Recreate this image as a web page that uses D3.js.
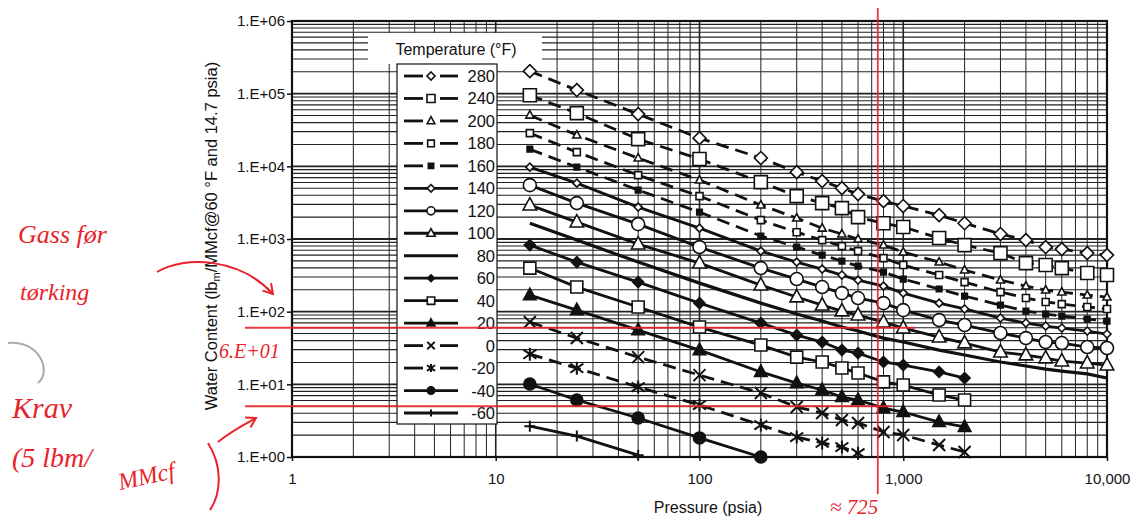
<!DOCTYPE html>
<html>
<head>
<meta charset="utf-8">
<script src="https://cdn.jsdelivr.net/npm/d3@7"></script>
<style>
body { margin: 0; background: #fff; }
svg text { font-family: "Liberation Sans", Arial, sans-serif; fill: #111; }
.hand { font-family: "Liberation Serif", serif; font-style: italic; fill: #e8232b; }
</style>
</head>
<body>
<svg id="chart" width="1139" height="522"></svg>
<script>
// pressures (psia) the table is given at
var pressures = [14.7, 25, 50, 100, 200, 300, 400, 500, 600, 800, 1000, 1500, 2000, 3000, 4000, 5000, 6000, 8000, 10000];
var temps = [280, 240, 200, 180, 160, 140, 120, 100, 80, 60, 40, 20, 0, -20, -40, -60];

// water content, lbm/MMcf, one array per temperature
var wc280 = [204000, 112000, 52300, 24400, 13000, 8320, 6260, 5010, 4150, 3320, 2840, 2130, 1650, 1170, 966, 774, 726, 640, 600];
var wc240 = [95300, 53900, 23700, 12600, 6060, 3890, 3120, 2660, 2000, 1650, 1460, 1030, 824, 640, 466, 438, 398, 340, 319];
var wc200 = [50600, 26900, 13000, 6460, 2930, 1940, 1410, 1170, 997, 824, 660, 481, 374, 272, 225, 198, 186, 169, 159];
var wc180 = [28600, 15700, 7570, 3890, 1820, 1240, 966, 798, 682, 546, 438, 319, 255, 186, 154, 136, 127, 116, 109];
var wc160 = [17200, 9750, 4710, 2340, 1100, 774, 600, 497, 424, 351, 281, 205, 164, 123, 102, 92.7, 87, 79.1, 74.3];
var wc140 = [9750, 5870, 2750, 1410, 682, 481, 385, 319, 272, 225, 180, 131, 109, 81.7, 69.7, 63.4, 59.5, 54.1, 49.2];
var wc120 = [5510, 3120, 1600, 774, 398, 281, 218, 180, 154, 131, 105, 76.6, 65.4, 50.8, 43.3, 38.2, 37, 32.6, 31.6];
var wc100 = [2930, 1710, 851, 466, 232, 159, 123, 102, 89.8, 71.9, 59.5, 44.7, 37, 27.8, 25.3, 23, 20.9, 19.6, 18.4];
var wc80 = [1650, 966, 481, 247, 131, 92.7, 74.3, 61.4, 54.1, 43.3, 38.2, 29.6, 25.3, 20.3, 17.9, 16.2, 15.2, 13.9, 12.2];
var wc60 = [824, 481, 255, 131, 69.7, 47.6, 38.2, 29.6, 26.9, 20.3, 18.4, 14.8, 12.2];
var wc40 = [398, 218, 116, 61.4, 34.7, 23.7, 20.3, 16.8, 14.3, 10.8, 9.78, 7.13, 6.08];
var wc20 = [169, 105, 55.8, 29.6, 14.8, 10.4, 8.35, 6.69, 6.08, 4.72, 4.16, 3.03, 2.59];
var wc0 = [71.9, 43.3, 23.7, 13.4, 7.59, 4.87, 4.03, 3.23, 2.94, 2.21, 2.01, 1.46, 1.17];
var wcM20 = [26, 16.7, 9.18, 5.19, 2.75, 1.88, 1.56, 1.37, 1.13];
var wcM40 = [10.1, 6.08, 3.44, 1.83, 1.0];
var wcM60 = [2.65, 1.94, 1.06];

var seriesValues = [wc280, wc240, wc200, wc180, wc160, wc140, wc120, wc100, wc80, wc60, wc40, wc20, wc0, wcM20, wcM40, wcM60];

var yTicks = [1, 10, 100, 1e3, 1e4, 1e5, 1e6];
var xTicks = [1, 10, 100, 1000, 10000];

// hand-written notes on the scan
var noteLevels = [60, 5];      // lbm/MMcf
var notePressure = 750;        // psia, where the red vertical was drawn

// marker / line look for each temperature
var styles = {
    '280': { m: 'diamond', r: 6.5, fill: false, dash: true },
    '240': { m: 'square', r: 6.5, fill: false, dash: true },
    '200': { m: 'triangle', r: 4.5, fill: false, dash: true },
    '180': { m: 'square', r: 3.5, fill: false, dash: true },
    '160': { m: 'square', r: 2.8, fill: true, dash: true },
    '140': { m: 'diamond', r: 4, fill: false, dash: false },
    '120': { m: 'circle', r: 6.5, fill: false, dash: false },
    '100': { m: 'triangle', r: 7.5, fill: false, dash: false },
    '80': { m: 'none', r: 0, fill: false, dash: false },
    '60': { m: 'diamond', r: 5.5, fill: true, dash: false },
    '40': { m: 'square', r: 6, fill: false, dash: false },
    '20': { m: 'triangle', r: 7, fill: true, dash: false },
    '0': { m: 'x', r: 6, fill: false, dash: true },
    '-20': { m: 'asterisk', r: 6.5, fill: false, dash: true },
    '-40': { m: 'circle', r: 6, fill: true, dash: false },
    '-60': { m: 'plus', r: 5.5, fill: false, dash: false }
};

(function() {
var svg = d3.select('#chart');
var pl = 292, pr = 1107, pt = 21, pb = 457;

var x = d3.scaleLog().domain([1, 10000]).range([pl, pr]);
var y = d3.scaleLog().domain([1, 1e6]).range([pb, pt]);

var markerPath = function(m, r) {
    if (m === 'diamond') return 'M0,' + (-r) + 'L' + r + ',0L0,' + r + 'L' + (-r) + ',0Z';
    if (m === 'square') return 'M' + (-r) + ',' + (-r) + 'h' + 2 * r + 'v' + 2 * r + 'h' + (-2 * r) + 'Z';
    if (m === 'triangle') return 'M0,' + (-r) + 'L' + (r * 0.9) + ',' + (r * 0.65) + 'L' + (-r * 0.9) + ',' + (r * 0.65) + 'Z';
    if (m === 'x') return 'M' + (-r) + ',' + (-r) + 'L' + r + ',' + r + 'M' + (-r) + ',' + r + 'L' + r + ',' + (-r);
    if (m === 'asterisk') return 'M' + (-r) + ',' + (-r * 0.7) + 'L' + r + ',' + (r * 0.7) + 'M' + (-r) + ',' + (r * 0.7) + 'L' + r + ',' + (-r * 0.7) + 'M0,' + (-r) + 'V' + r;
    if (m === 'plus') return 'M' + (-r) + ',0H' + r + 'M0,' + (-r) + 'V' + r;
    return '';
};

var drawMarker = function(g, st, cx, cy, scale) {
    var r = st.r * (scale || 1);
    if (st.m === 'none') return;
    if (st.m === 'circle') {
        g.append('circle').attr('cx', cx).attr('cy', cy).attr('r', r)
            .attr('fill', st.fill ? '#111' : '#fff').attr('stroke', '#111').attr('stroke-width', 1.6);
        return;
    }
    var open = (st.m === 'x' || st.m === 'asterisk' || st.m === 'plus');
    g.append('path').attr('d', markerPath(st.m, r))
        .attr('transform', 'translate(' + cx + ',' + cy + ')')
        .attr('fill', open ? 'none' : (st.fill ? '#111' : '#fff'))
        .attr('stroke', '#111')
        .attr('stroke-width', open ? 2 : 1.6);
};

svg.append('rect').attr('width', 1139).attr('height', 522).attr('fill', '#fff');

svg.append('clipPath').attr('id', 'plotclip')
    .append('rect').attr('x', pl).attr('y', pt).attr('width', pr - pl).attr('height', pb - pt);

// grid: decades plus 2..9
var grid = svg.append('g');
var xGrid = [], yGrid = [];
xTicks.forEach(function(d) {
    for (var k = 1; k < 10; k++) { if (d * k <= 10000) xGrid.push({ v: d * k, major: k === 1 }); }
});
yTicks.forEach(function(d) {
    for (var k = 1; k < 10; k++) { if (d * k <= 1e6) yGrid.push({ v: d * k, major: k === 1 }); }
});
grid.selectAll('.vg').data(xGrid).enter().append('line')
    .attr('x1', function(d) { return x(d.v); }).attr('x2', function(d) { return x(d.v); })
    .attr('y1', pt).attr('y2', pb)
    .attr('stroke', '#222').attr('stroke-width', function(d) { return d.major ? 1.6 : 1; });
grid.selectAll('.hg').data(yGrid).enter().append('line')
    .attr('x1', pl).attr('x2', pr)
    .attr('y1', function(d) { return y(d.v); }).attr('y2', function(d) { return y(d.v); })
    .attr('stroke', '#222').attr('stroke-width', function(d) { return d.major ? 1.8 : 1.1; });

// frame
svg.append('rect').attr('x', pl).attr('y', pt).attr('width', pr - pl).attr('height', pb - pt)
    .attr('fill', 'none').attr('stroke', '#111').attr('stroke-width', 2.2);

// axes
var yAxis = d3.axisLeft(y).tickValues(yTicks).tickSize(5).tickPadding(2)
    .tickFormat(function(d) { return '1.E+' + d3.format('02d')(Math.round(Math.log10(d))); });
var ya = svg.append('g').attr('transform', 'translate(' + pl + ',0)').call(yAxis);
ya.select('.domain').remove();
ya.selectAll('text').style('font-size', '15px').attr('fill', '#111');
ya.selectAll('line').attr('stroke', '#111').attr('stroke-width', 1.5);

var xAxis = d3.axisBottom(x).tickValues(xTicks).tickSize(4).tickPadding(12)
    .tickFormat(d3.format(','));
var xa = svg.append('g').attr('transform', 'translate(0,' + pb + ')').call(xAxis);
xa.select('.domain').remove();
xa.selectAll('text').style('font-size', '15px').attr('fill', '#111');
xa.selectAll('line').attr('stroke', '#111').attr('stroke-width', 1.5);

svg.append('text').attr('x', 708).attr('y', 513).attr('text-anchor', 'middle')
    .style('font-size', '16px').text('Pressure (psia)');

var yt = svg.append('text').attr('transform', 'translate(217,236) rotate(-90)')
    .attr('text-anchor', 'middle').style('font-size', '16.5px');
yt.append('tspan').text('Water Content (lb');
yt.append('tspan').attr('baseline-shift', '-3').style('font-size', '11px').text('m');
yt.append('tspan').text('/MMcf@60 °F and 14.7 psia)');

// curves
var line = d3.line()
    .x(function(d) { return x(d.p); })
    .y(function(d) { return y(d.v); });

var series = temps.map(function(t, i) {
    return {
        t: t,
        st: styles[String(t)],
        pts: seriesValues[i].map(function(v, j) { return { p: pressures[j], v: v }; })
    };
});

var curves = svg.append('g').attr('clip-path', 'url(#plotclip)');
curves.selectAll('path').data(series).enter().append('path')
    .attr('d', function(d) { return line(d.pts); })
    .attr('fill', 'none').attr('stroke', '#111')
    .attr('stroke-width', function(d) { return d.st.m === 'none' ? 3.2 : 2.8; })
    .attr('stroke-dasharray', function(d) { return d.st.dash ? '13,7' : null; });

var marks = svg.append('g');
series.forEach(function(s) {
    s.pts.forEach(function(d) { drawMarker(marks, s.st, x(d.p), y(d.v)); });
});

// legend
var lg = svg.append('g');
lg.append('rect').attr('x', 368).attr('y', 33).attr('width', 174).attr('height', 31).attr('fill', '#fff');
lg.append('text').attr('x', 456).attr('y', 55).attr('text-anchor', 'middle')
    .style('font-size', '16px').text('Temperature (°F)');
lg.append('rect').attr('x', 397).attr('y', 64).attr('width', 100).attr('height', 360)
    .attr('fill', '#fff').attr('stroke', '#111').attr('stroke-width', 1.2);

var rowY = d3.scalePoint().domain(temps).range([76, 413]);
temps.forEach(function(t) {
    var st = styles[String(t)], ry = rowY(t);
    if (st.dash) {
        lg.append('line').attr('x1', 404).attr('x2', 423).attr('y1', ry).attr('y2', ry)
            .attr('stroke', '#111').attr('stroke-width', 2.8);
        lg.append('line').attr('x1', 440).attr('x2', 458).attr('y1', ry).attr('y2', ry)
            .attr('stroke', '#111').attr('stroke-width', 2.8);
    } else {
        lg.append('line').attr('x1', 404).attr('x2', 458).attr('y1', ry).attr('y2', ry)
            .attr('stroke', '#111').attr('stroke-width', st.m === 'none' ? 3.2 : 2.8);
    }
    drawMarker(lg, st, 431, ry, st.r > 5 ? 0.62 : 0.95);
    lg.append('text').attr('x', 495).attr('y', ry + 6).attr('text-anchor', 'end')
        .style('font-size', '16.5px').text(t);
});

// red hand annotations
var red = '#e8232b';
var notes = svg.append('g');
notes.selectAll('.hl').data(noteLevels).enter().append('line')
    .attr('x1', 245).attr('x2', function(d, i) { return i === 0 ? 915 : 892; })
    .attr('y1', function(d) { return y(d); }).attr('y2', function(d) { return y(d); })
    .attr('stroke', red).attr('stroke-width', 2).attr('opacity', 0.9);
notes.append('line').attr('x1', x(notePressure)).attr('x2', x(notePressure))
    .attr('y1', 8).attr('y2', 494).attr('stroke', red).attr('stroke-width', 1.8).attr('opacity', 0.9);

notes.append('text').attr('class', 'hand').attr('x', 18).attr('y', 243).style('font-size', '26px').text('Gass før');
notes.append('text').attr('class', 'hand').attr('x', 20).attr('y', 300).style('font-size', '24px').text('tørking');
notes.append('text').attr('class', 'hand').attr('x', 219).attr('y', 358).style('font-size', '20px').text('6.E+01');
notes.append('text').attr('class', 'hand').attr('x', 12).attr('y', 418).style('font-size', '30px').text('Krav');
notes.append('text').attr('class', 'hand').attr('x', 12).attr('y', 467).style('font-size', '28px').text('(5 lbm/');
notes.append('text').attr('class', 'hand').attr('x', 120).attr('y', 490).style('font-size', '24px')
    .attr('transform', 'rotate(-12,120,490)').text('MMcf');
notes.append('text').attr('class', 'hand').attr('x', 830).attr('y', 514).style('font-size', '21px').text('≈ 725');

var arrow = function(d, hx, hy, ang) {
    notes.append('path').attr('d', d).attr('fill', 'none').attr('stroke', red).attr('stroke-width', 2);
    var a1 = ang + 2.6, a2 = ang - 2.6, L = 11;
    notes.append('path')
        .attr('d', 'M' + (hx + L * Math.cos(a1)) + ',' + (hy + L * Math.sin(a1)) + 'L' + hx + ',' + hy +
            'L' + (hx + L * Math.cos(a2)) + ',' + (hy + L * Math.sin(a2)))
        .attr('fill', 'none').attr('stroke', red).attr('stroke-width', 2);
};
arrow('M157,272 C185,255 240,258 273,294', 273, 294, 0.85);
arrow('M218,442 C230,432 245,424 256,418', 256, 418, -0.5);
notes.append('path').attr('d', 'M208,443 C222,465 222,492 210,510').attr('fill', 'none')
    .attr('stroke', red).attr('stroke-width', 2);
notes.append('path').attr('d', 'M8,343 C40,340 52,372 38,383').attr('fill', 'none')
    .attr('stroke', '#aaa').attr('stroke-width', 2);
})();
</script>
</body>
</html>
